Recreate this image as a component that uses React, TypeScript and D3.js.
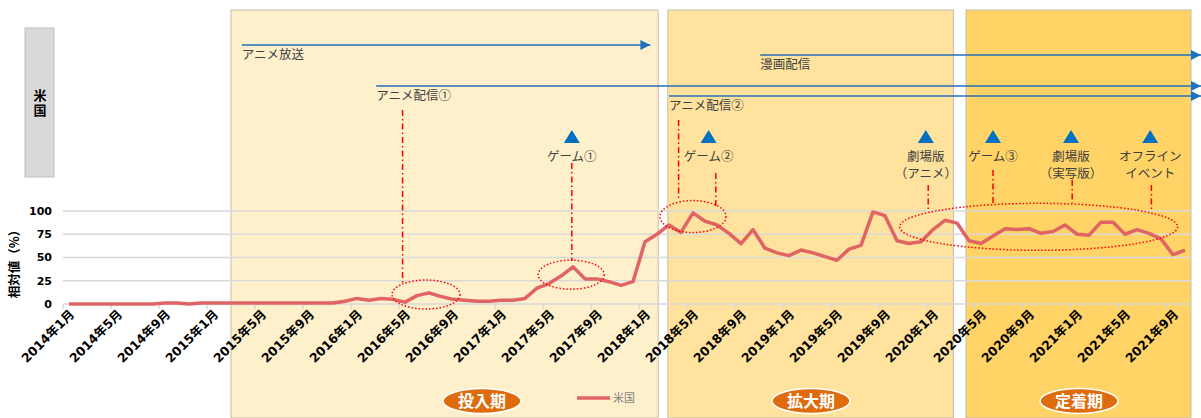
import * as React from 'react'
import * as d3 from 'd3'

// monthly categories 2014/1 .. 2021/10
const startYear = 2014
const monthCount = 94
const months: string[] = d3.range(monthCount).map(i => {
    const y = startYear + Math.floor(i / 12)
    const m = (i % 12) + 1
    return `${y}年${m}月`
})

// relative search interest, US (%)
const usValues: number[] = [
    0, 0, 0, 0, 0, 0, 0, 0, 1, 1, 0, 1,
    1, 1, 1, 1, 1, 1, 1, 1, 1, 1, 1, 3,
    6, 4, 6, 5, 2, 9, 12, 8, 5, 4, 3, 3,
    4, 4, 6, 17, 22, 30, 40, 27, 27, 24, 20, 24,
    67, 75, 85, 77, 98, 89, 85, 76, 65, 80, 60, 55,
    52, 58, 55, 51, 47, 59, 63, 99, 95, 68, 65, 67,
    80, 90, 87, 68, 65, 73, 81, 80, 81, 76, 78, 85,
    75, 74, 88, 88, 75, 80, 76, 70, 53, 58,
]

const yTicks: number[] = [0, 25, 50, 75, 100]
const seriesName = '米国'
const rowLabel = '米国'

// phases: [label, start month offset, end month offset]
const phases: [string, number, number][] = [
    ['投入期', 14.0, 49.6],
    ['拡大期', 50.4, 74.2],
    ['定着期', 75.25, 94],
]
const phaseColors = ['#FFF0CC', '#FFE29D', '#FFD366']

// media arrows: label, from month offset, to month offset
const arrows: [string, number, number][] = [
    ['アニメ放送', 14.9, 48.95],
    ['漫画配信', 58.1, 95],
    ['アニメ配信①', 26.1, 95],
    ['アニメ配信②', 50.5, 95],
]
const arrowY = [45, 55, 86, 96]

// events with triangle markers: label lines, month offset
const events: [string[], number][] = [
    [['ゲーム①'], 42.4],
    [['ゲーム②'], 53.8],
    [['劇場版', '（アニメ）'], 71.9],
    [['ゲーム③'], 77.5],
    [['劇場版', '（実写版）'], 84.0],
    [['オフライン', 'イベント'], 90.6],
]

// red leader lines: month offset, top px, bottom px
const leaders: [number, number, number][] = [
    [28.3, 110, 283],
    [42.4, 163, 261],
    [51.3, 120, 201],
    [54.4, 173, 206],
    [72.1, 185, 210],
    [77.5, 170, 205],
    [84.1, 180, 203],
    [90.7, 185, 210],
]

// dotted highlight ellipses: center month offset, center value, rx, ry
const highlights: [number, number, number, number][] = [
    [30.25, 10.2, 34, 14.5],
    [42.35, 31.5, 33, 14.5],
    [52.5, 94, 33, 16],
    [81.3, 83, 139, 23.5],
]

const jp = "'Noto Sans CJK JP', sans-serif"
const num = "'DejaVu Sans', 'Noto Sans CJK JP', sans-serif"

export default function App() {
    const width = 1201
    const height = 418
    const left = 63
    const right = 1191

    const x = d3.scaleBand<string>().domain(months).range([left, right])
    const xm = d3.scaleLinear().domain([0, monthCount]).range([left, right])
    const y = d3.scaleLinear().domain([0, 100]).range([304, 211])
    const bw = x.bandwidth()

    const line = d3.line<number>()
        .x((d, i) => (x(months[i]) as number) + bw / 2)
        .y(d => y(d))

    const tickMonths = months.filter((d, i) => i % 4 === 0)

    return <svg width={width} height={height}
        style={{ position: 'absolute', left: 0, top: 0, background: '#fff' }}>
        <defs>
            <marker id='arr' viewBox='0 0 10 10' refX='10' refY='5'
                markerUnits='userSpaceOnUse' markerWidth='11' markerHeight='10' orient='auto'>
                <path d='M0,0 L10,5 L0,10 z' fill='#1F70BF' />
            </marker>
        </defs>

        {phases.map((p, i) => (
            <rect key={p[0]} x={xm(p[1])} y={10} width={xm(p[2]) - xm(p[1])} height={height - 10}
                fill={phaseColors[i]} stroke='#C8BEA6' strokeWidth={1} />
        ))}

        {/* gridlines */}
        {yTicks.map(t => (
            <line key={t} x1={left} x2={right} y1={y(t)} y2={y(t)} stroke='#D9D9D9' strokeWidth={1.5} />
        ))}
        {tickMonths.map(m => (
            <line key={m} x1={x(m)} x2={x(m)} y1={304} y2={309} stroke='#D9D9D9' strokeWidth={1.5} />
        ))}
        {yTicks.map(t => (
            <text key={t} x={52} y={y(t)} dy='0.36em' textAnchor='end'
                fontFamily={num} fontWeight='bold' fontSize={11} fill='#000'>{t}</text>
        ))}
        <text transform='translate(19,261) rotate(-90)' textAnchor='middle'
            fontFamily={jp} fontWeight='bold' fontSize={12.5} fill='#000'>相対値（%）</text>

        {tickMonths.map(m => (
            <text key={m} transform={`translate(${(x(m) as number) + bw / 2 + 3},${312}) rotate(-45)`}
                textAnchor='end' dy='0.35em' fontFamily={num} fontWeight='bold' fontSize={12.5}
                fill='#000'>{m}</text>
        ))}

        <path d={line(usValues) as string} fill='none' stroke='#E06464' strokeWidth={3.5}
            strokeLinejoin='round' />

        {highlights.map((h, i) => (
            <ellipse key={i} cx={xm(h[0])} cy={y(h[1])} rx={h[2]} ry={h[3]} fill='none'
                stroke='#FF0000' strokeWidth={1.5} strokeDasharray='1.5 2' />
        ))}

        {leaders.map((l, i) => (
            <line key={i} x1={xm(l[0])} x2={xm(l[0])} y1={l[1]} y2={l[2]} stroke='#FF0000'
                strokeWidth={1.5} strokeDasharray='6 3 1.5 3' />
        ))}

        {arrows.map((a, i) => (
            <g key={a[0]}>
                <line x1={xm(a[1])} x2={Math.min(xm(a[2]), width)} y1={arrowY[i]} y2={arrowY[i]}
                    stroke='#2370B8' strokeWidth={1.5} markerEnd='url(#arr)' />
                <text x={xm(a[1])} y={arrowY[i] + 14} fontFamily={jp} fontSize={12.5}
                    fill='#404040'>{a[0]}</text>
            </g>
        ))}

        {events.map((e, i) => {
            const cx = xm(e[1])
            return <g key={i}>
                <path d={`M${cx},130 L${cx + 8},143 L${cx - 8},143 Z`} fill='#0070C0' />
                {e[0].map((t, j) => (
                    <text key={j} x={cx} y={161 + j * 17} textAnchor='middle' fontFamily={jp}
                        fontSize={12.5} fill='#404040'>{t}</text>
                ))}
            </g>
        })}

        {/* row header */}
        <rect x={25} y={28} width={29} height={149} fill='#D9D9D9' stroke='#BFBFBF' />
        <text x={40} y={89} textAnchor='start' fontFamily={jp} fontWeight='bold' fontSize={13}
            letterSpacing={2} fill='#000' style={{ writingMode: 'vertical-rl' }}>{rowLabel}</text>

        {/* phase pills */}
        {phases.map((p, i) => {
            const cx = [482, 811, 1079][i]
            return <g key={p[0]}>
                <ellipse cx={cx} cy={401} rx={39} ry={12.5} fill='#DE6B0C' stroke='#fff' strokeWidth={1.5} />
                <text x={cx} y={401} dy='0.36em' textAnchor='middle' fontFamily={jp}
                    fontWeight='bold' fontSize={16} fill='#fff'>{p[0]}</text>
            </g>
        })}

        {/* legend */}
        <line x1={577} x2={610} y1={398} y2={398} stroke='#E06464' strokeWidth={3.5} />
        <text x={613} y={398} dy='0.36em' fontFamily={jp} fontSize={11} fill='#7F7F7F'>{seriesName}</text>
    </svg>
}
